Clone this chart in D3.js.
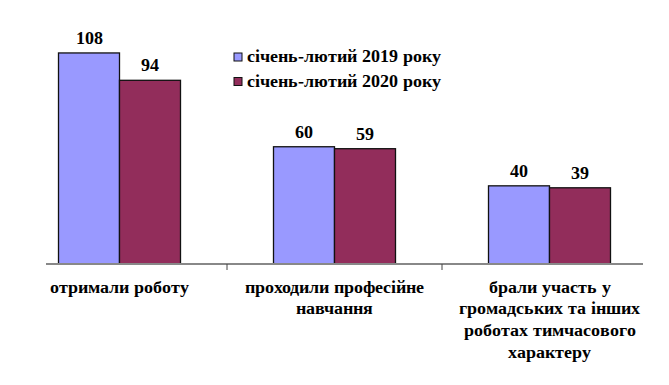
<!DOCTYPE html>
<html>
<head>
<meta charset="utf-8">
<script src="https://cdn.jsdelivr.net/npm/d3@7"></script>
<style>
  @font-face {
    font-family: 'RefSerif';
    src: local('Liberation Serif Bold'), local('LiberationSerif-Bold'), local('Times New Roman Bold');
    font-weight: bold;
  }
</style>
</head>
<body style="margin:0">
<div id="chart"></div>
<script>
let categories = [
  ['отримали роботу'],
  ['проходили професійне', 'навчання'],
  ['брали участь у', 'громадських та  інших', 'роботах тимчасового', 'характеру']
]
let series = ['січень-лютий 2019 року', 'січень-лютий 2020 року']
let values2019 = [108, 60, 40]
let values2020 = [94, 59, 39]

let serifFace = "'RefSerif', 'Liberation Serif', monospace"
let color = d3.scaleOrdinal().domain(series).range(['#9999ff', '#922d5b'])

let svg = d3.select('#chart').append('svg')
    .attr('width', 669)
    .attr('height', 385)

let x = d3.scaleBand().domain(d3.range(categories.length)).range([12, 657])
let x1 = d3.scaleBand().domain(series).range([x.bandwidth() / 2 - 61, x.bandwidth() / 2 + 61])
let y = d3.scaleLinear().domain([0, 120]).range([264, 29.5])

let rows = categories.map((c, i) => ({ i: i, vals: [values2019[i], values2020[i]] }))

let groups = svg.selectAll('g.grp')
    .data(rows)
    .enter().append('g')
      .attr('class', 'grp')
      .attr('transform', (d) => 'translate(' + x(d.i) + ',0)')

groups.selectAll('rect')
    .data((d) => d.vals.map((v, k) => ({ s: series[k], v: v })))
    .enter().append('rect')
      .attr('x', (d) => x1(d.s))
      .attr('y', (d) => y(d.v))
      .attr('width', x1.bandwidth())
      .attr('height', (d) => y(0) - y(d.v))
      .attr('fill', (d) => color(d.s))
      .attr('stroke', '#111')
      .attr('stroke-width', 1.3)

groups.selectAll('text.val')
    .data((d) => d.vals.map((v, k) => ({ s: series[k], v: v })))
    .enter().append('text')
      .attr('class', 'val')
      .attr('x', (d) => x1(d.s) + x1.bandwidth() / 2)
      .attr('y', (d) => y(d.v) - 9)
      .attr('text-anchor', 'middle')
      .style('font-family', serifFace)
      .style('font-weight', 'bold')
      .style('font-size', '18px')
      .text((d) => d.v)

// axis
svg.append('line')
    .attr('x1', 46).attr('x2', 643)
    .attr('y1', y(0)).attr('y2', y(0))
    .attr('stroke', '#888').attr('stroke-width', 2)

svg.selectAll('line.tick')
    .data(d3.range(1, categories.length))
    .enter().append('line')
      .attr('class', 'tick')
      .attr('x1', (d) => x(d)).attr('x2', (d) => x(d))
      .attr('y1', y(0)).attr('y2', y(0) + 6)
      .attr('stroke', '#444').attr('stroke-width', 1)

// category labels
groups.append('text')
    .attr('text-anchor', 'middle')
    .style('font-family', serifFace)
    .style('font-weight', 'bold')
    .style('font-size', '18px')
    .selectAll('tspan')
    .data((d) => categories[d.i])
    .enter().append('tspan')
      .attr('x', x.bandwidth() / 2)
      .attr('y', (d, k) => 292.5 + k * 21.7)
      .text((d) => d)

// legend
let legend = svg.selectAll('g.leg')
    .data(series)
    .enter().append('g')
      .attr('class', 'leg')
      .attr('transform', (d, i) => 'translate(234,' + (57 + i * 24.5) + ')')

legend.append('rect')
    .attr('x', 0).attr('y', -4)
    .attr('width', 8).attr('height', 8)
    .attr('fill', (d) => color(d))
    .attr('stroke', '#111').attr('stroke-width', 1)

legend.append('text')
    .attr('x', 13).attr('y', 5)
    .style('font-family', serifFace)
    .style('font-weight', 'bold')
    .style('font-size', '18px')
    .text((d) => d)
</script>
</body>
</html>
